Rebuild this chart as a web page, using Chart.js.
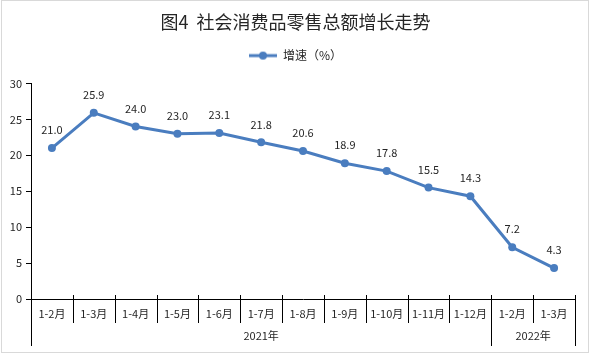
<!DOCTYPE html>
<html><head><meta charset="utf-8">
<script src="https://cdn.jsdelivr.net/npm/chart.js@4/dist/chart.umd.min.js"></script>
<style>html,body{margin:0;padding:0;background:#fff}#wrap{width:591px;height:354px}</style>
</head><body><div id="wrap"><canvas id="c" width="591" height="354"></canvas></div>
<script>
const categories = ["1-2月","1-3月","1-4月","1-5月","1-6月","1-7月","1-8月","1-9月","1-10月","1-11月","1-12月","1-2月","1-3月"];
const growth = [21.0, 25.9, 24.0, 23.0, 23.1, 21.8, 20.6, 18.9, 17.8, 15.5, 14.3, 7.2, 4.3];
const years = ["2021年","2022年"];
const yearSpans = [11, 2];
const yTicks = [0,5,10,15,20,25,30];

const LINE = "#4a7dbf";
const TXT = "#262626";
const FONT = "'Noto Sans CJK SC', 'Microsoft YaHei', sans-serif";

const icon = document.createElement('canvas');
icon.width = 28; icon.height = 10;
(function(){const g=icon.getContext('2d');g.strokeStyle=LINE;g.lineWidth=3;g.beginPath();g.moveTo(0,5);g.lineTo(28,5);g.stroke();g.fillStyle=LINE;g.beginPath();g.arc(14,5,4,0,Math.PI*2);g.fill();})();

const labelsPlugin = {
  id:'vals',
  afterDatasetsDraw(chart){
    const ctx=chart.ctx, meta=chart.getDatasetMeta(0);
    ctx.save();
    ctx.font = "11px " + FONT; ctx.fillStyle=TXT; ctx.textAlign='center'; ctx.textBaseline='middle';
    meta.data.forEach((p,i)=>{ ctx.fillText(growth[i].toFixed(1), p.x, p.y-18); });
    ctx.restore();
  }
};
const centerPlugin = {
  id:'centerHeader',
  afterLayout(chart){
    if (chart.titleBlock) chart.titleBlock.left += 16;
    if (chart.legend) chart.legend.left += 16;
  }
};
const axisPlugin = {
  id:'multi',
  afterDraw(chart){
    const ctx=chart.ctx, xs=chart.scales.x, y0=chart.chartArea.bottom;
    const half=(xs.getPixelForValue(1)-xs.getPixelForValue(0))/2;
    const bounds=[];
    for(let i=0;i<categories.length;i++) bounds.push(xs.getPixelForValue(i)-half);
    bounds.push(xs.getPixelForValue(categories.length-1)+half);
    const groupIdx=new Set([0]); let acc=0; yearSpans.forEach(s=>{acc+=s;groupIdx.add(acc);});
    ctx.save();
    ctx.strokeStyle='#000'; ctx.lineWidth=1;
    bounds.forEach((bx,i)=>{
      const x=Math.round(bx)+0.5;
      ctx.beginPath(); ctx.moveTo(x, i===0?y0:y0-4); ctx.lineTo(x, groupIdx.has(i)? y0+47 : y0+24); ctx.stroke();
    });
    ctx.font="11px "+FONT; ctx.fillStyle=TXT; ctx.textAlign='center'; ctx.textBaseline='middle';
    let start=0;
    years.forEach((yl,k)=>{
      const a=bounds[start], b=bounds[start+yearSpans[k]];
      ctx.fillText(yl,(a+b)/2,y0+37);
      start+=yearSpans[k];
    });
    ctx.strokeStyle='#d9d9d9';
    ctx.strokeRect(1.5,0.5,587,352);
    ctx.restore();
  }
};

new Chart(document.getElementById('c'),{
  type:'line',
  data:{labels:categories,datasets:[{label:'增速（%）',data:growth,borderColor:LINE,backgroundColor:LINE,borderWidth:3,pointRadius:4,pointHoverRadius:4,pointBackgroundColor:LINE,pointBorderWidth:0,tension:0}]},
  options:{
    responsive:false,animation:false,devicePixelRatio:1,
    layout:{padding:{left:0,right:16,top:0,bottom:0}},
    plugins:{
      title:{display:true,text:'图4  社会消费品零售总额增长走势',color:TXT,font:{family:FONT,size:18,weight:'normal'},padding:{top:11,bottom:7}},
      subtitle:{display:true,text:'',weight:500,font:{size:1.5},padding:{top:5,bottom:5}},
      legend:{display:true,labels:{usePointStyle:true,pointStyle:icon,pointStyleWidth:28,color:TXT,font:{family:FONT,size:12},padding:10,
        generateLabels(chart){return [{text:'增速（%）',pointStyle:icon,fillStyle:LINE,strokeStyle:LINE,lineWidth:0,fontColor:TXT,datasetIndex:0,hidden:false}];}}},
      tooltip:{enabled:false}
    },
    scales:{
      x:{offset:true,grid:{display:false,drawTicks:false},border:{display:true,color:'#000',width:1},
         ticks:{color:TXT,font:{family:FONT,size:11},padding:8,maxRotation:0,autoSkip:false},
         afterFit(s){s.height=55;}},
      y:{min:0,max:30,afterBuildTicks(s){s.ticks=yTicks.map(v=>({value:v}));},
         grid:{drawOnChartArea:false,drawTicks:true,tickLength:5,color:'#000'},border:{display:true,color:'#000',width:1},
         ticks:{color:TXT,font:{family:FONT,size:11},padding:4},
         afterFit(s){s.width=31;}}
    }
  },
  plugins:[labelsPlugin,centerPlugin,axisPlugin]
});
</script></body></html>
